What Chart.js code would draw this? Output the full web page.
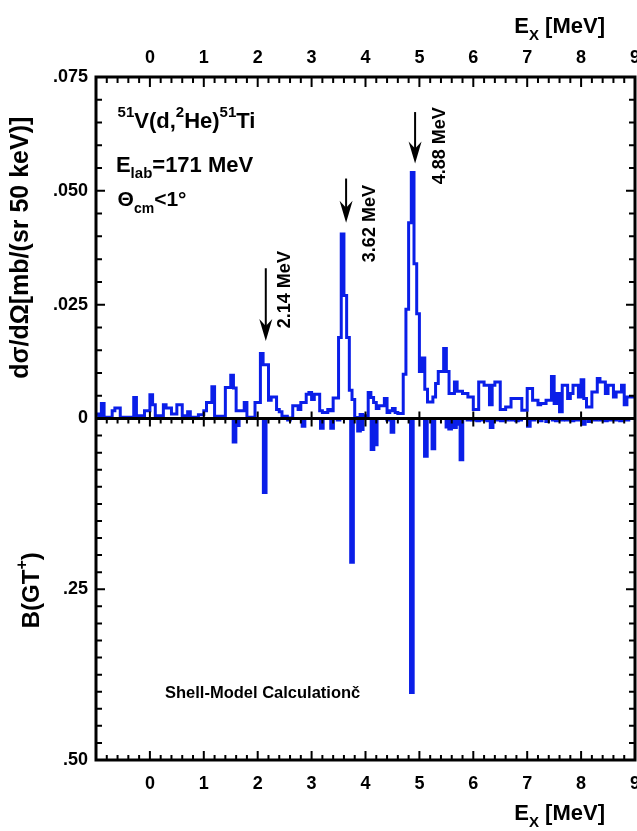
<!DOCTYPE html>
<html>
<head>
<meta charset="utf-8">
<script src="https://cdn.jsdelivr.net/npm/chart.js@4.4.0/dist/chart.umd.min.js"></script>
<style>
  html, body { margin: 0; padding: 0; background: #fff; }
  #wrap { width: 637px; height: 831px; }
</style>
</head>
<body>
<div id="wrap"><canvas id="spectrum" width="637" height="831"></canvas></div>
<script>
// 51V(d,2He)51Ti spectrum, 50 keV bins from -1 MeV
const binStart = -1.0;
const binWidth = 0.05;
const crossSection = [
  0.0010, 0.0010, 0.0003, 0.0033, 0.0003, 0.0003, 0.0003, 0.0017, 0.0023, 0.0023,
  0.0003, 0.0003, 0.0003, 0.0003, 0.0003, 0.0046, 0.0006, 0.0006, 0.0006, 0.0017,
  0.0017, 0.0052, 0.0030, 0.0006, 0.0006, 0.0006, 0.0030, 0.0023, 0.0023, 0.0010,
  0.0010, 0.0030, 0.0030, 0.0006, 0.0006, 0.0015, 0.0003, 0.0003, 0.0003, 0.0008,
  0.0008, 0.0017, 0.0035, 0.0035, 0.0070, 0.0005, 0.0005, 0.0005, 0.0005, 0.0068,
  0.0068, 0.0095, 0.0067, 0.0017, 0.0017, 0.0017, 0.0035, 0.0003, 0.0003, 0.0003,
  0.0035, 0.0035, 0.0143, 0.0118, 0.0118, 0.0040, 0.0047, 0.0047, 0.0020, 0.0015,
  0.0005, 0.0005, 0.0001, 0.0001, 0.0028, 0.0028, 0.0020, 0.0035, 0.0035, 0.0053,
  0.0057, 0.0042, 0.0053, 0.0053, 0.0017, 0.0013, 0.0013, 0.0020, 0.0017, 0.0045,
  0.0045, 0.0178, 0.0405, 0.0270, 0.0178, 0.0062, 0.0042, 0.0002, 0.0002, 0.0009,
  0.0006, 0.0006, 0.0057, 0.0046, 0.0035, 0.0022, 0.0028, 0.0028, 0.0044, 0.0013,
  0.0017, 0.0022, 0.0013, 0.0011, 0.0011, 0.0097, 0.0240, 0.0430, 0.0540, 0.0340,
  0.0230, 0.0103, 0.0133, 0.0064, 0.0036, 0.0036, 0.0047, 0.0077, 0.0103, 0.0103,
  0.0154, 0.0103, 0.0055, 0.0055, 0.0080, 0.0060, 0.0060, 0.0055, 0.0055, 0.0047,
  0.0047, 0.0020, 0.0020, 0.0080, 0.0080, 0.0073, 0.0073, 0.0030, 0.0073, 0.0080,
  0.0080, 0.0020, 0.0020, 0.0025, 0.0025, 0.0044, 0.0044, 0.0044, 0.0044, 0.0018,
  0.0018, 0.0066, 0.0066, 0.0040, 0.0040, 0.0030, 0.0033, 0.0033, 0.0040, 0.0040,
  0.0092, 0.0033, 0.0055, 0.0015, 0.0073, 0.0073, 0.0044, 0.0055, 0.0073, 0.0073,
  0.0047, 0.0085, 0.0044, 0.0025, 0.0025, 0.0058, 0.0058, 0.0088, 0.0080, 0.0080,
  0.0055, 0.0073, 0.0073, 0.0047, 0.0058, 0.0058, 0.0073, 0.0030, 0.0047, 0.0047
];

// shell-model B(GT+) strengths
const smEnergy = [
  1.57, 1.63, 2.13, 2.58, 2.85, 3.19, 3.38, 3.50, 3.75, 3.88,
  3.93, 4.13, 4.19, 4.42, 4.50, 4.86, 5.12, 5.26, 5.52, 5.57,
  5.62, 5.66, 5.70, 5.78, 5.91, 6.00, 6.09, 6.19, 6.28, 6.34,
  6.44, 6.53, 6.62, 6.72, 6.81, 6.87, 7.03, 7.12, 7.25, 7.37,
  7.49, 7.55, 7.65, 7.74, 7.84, 7.93, 8.05, 8.15, 8.27, 8.37,
  8.46, 8.55, 8.64, 8.74, 8.86
];
const smStrength = [
  0.036, 0.012, 0.110, 0.004, 0.013, 0.016, 0.016, 0.004, 0.212, 0.020,
  0.018, 0.047, 0.040, 0.004, 0.022, 0.403, 0.057, 0.046, 0.014, 0.017,
  0.012, 0.015, 0.010, 0.062, 0.004, 0.004, 0.005, 0.004, 0.005, 0.015,
  0.004, 0.005, 0.004, 0.004, 0.005, 0.004, 0.013, 0.004, 0.005, 0.006,
  0.004, 0.005, 0.004, 0.004, 0.005, 0.004, 0.010, 0.006, 0.004, 0.004,
  0.005, 0.004, 0.004, 0.005, 0.004
];

// marked peaks
const peakLabels = ['2.14 MeV', '3.62 MeV', '4.88 MeV'];
const arrowEnergy = [2.15, 3.64, 4.92];
const arrowTail = [0.0330, 0.0527, 0.0673];
const arrowTip = [0.0170, 0.0430, 0.0560];

const blue = '#0a1ee8';
const ink = '#000';
const family = "'Liberation Sans', Arial, Helvetica, sans-serif";

Chart.defaults.font.family = family;

const spectrumPoints = crossSection.map((v, i) => ({ x: binStart + i * binWidth, y: v }));
spectrumPoints.push({ x: binStart + crossSection.length * binWidth, y: crossSection[crossSection.length - 1] });
const smPoints = smEnergy.map((e, i) => ({ x: e, y: smStrength[i] }));

// text with super/subscripts: parts = [[text, 'sup'|'sub'|''], ...]
function richWidth(ctx, parts, size) {
  let w = 0;
  for (const [t, mode] of parts) {
    ctx.font = `bold ${mode ? Math.round(size * 0.68) : size}px ${family}`;
    w += ctx.measureText(t).width;
  }
  return w;
}

function richText(ctx, x, y, parts, size) {
  let cx = x;
  ctx.textAlign = 'left';
  for (const [t, mode] of parts) {
    const s = mode ? Math.round(size * 0.68) : size;
    const dy = mode === 'sup' ? -size * 0.5 : mode === 'sub' ? size * 0.3 : 0;
    ctx.font = `bold ${s}px ${family}`;
    ctx.fillText(t, cx, y + dy);
    cx += ctx.measureText(t).width;
  }
}

function drawArrow(ctx, x, yTail, yTip) {
  ctx.lineWidth = 2;
  ctx.beginPath();
  ctx.moveTo(x, yTail);
  ctx.lineTo(x, yTip - 10);
  ctx.stroke();
  ctx.beginPath();
  ctx.moveTo(x, yTip);
  ctx.lineTo(x - 6.5, yTip - 22);
  ctx.lineTo(x, yTip - 15);
  ctx.lineTo(x + 6.5, yTip - 22);
  ctx.closePath();
  ctx.fill();
}

// frame, inward ticks, zero line and labels
const decorations = {
  id: 'decorations',
  afterDatasetsDraw(chart) {
    const { ctx, chartArea: a, scales } = chart;
    const x = scales.x, ys = scales.ySpec, yg = scales.yGT;
    const zero = ys.getPixelForValue(0);
    ctx.save();
    ctx.strokeStyle = ink;
    ctx.fillStyle = ink;
    ctx.lineWidth = 2;
    ctx.beginPath();
    for (let k = 0; k <= 50; k++) {
      const px = x.getPixelForValue(-1 + k * 0.2);
      const major = k % 5 === 0;
      ctx.moveTo(px, a.top); ctx.lineTo(px, a.top + (major ? 10 : 6));
      ctx.moveTo(px, a.bottom); ctx.lineTo(px, a.bottom - (major ? 9 : 5));
      ctx.moveTo(px, zero + (major ? 8 : 5)); ctx.lineTo(px, zero - (major ? 7 : 0));
    }
    for (let k = 1; k < 15; k++) {
      const py = ys.getPixelForValue(k * 0.005);
      const len = k % 5 === 0 ? 9 : 6;
      ctx.moveTo(a.left, py); ctx.lineTo(a.left + len, py);
      ctx.moveTo(a.right, py); ctx.lineTo(a.right - len, py);
    }
    for (let k = 1; k < 20; k++) {
      const py = yg.getPixelForValue(k * 0.025);
      const len = k % 10 === 0 ? 9 : 6;
      ctx.moveTo(a.left, py); ctx.lineTo(a.left + len, py);
      ctx.moveTo(a.right, py); ctx.lineTo(a.right - len, py);
    }
    ctx.stroke();

    ctx.lineWidth = 3;
    ctx.strokeRect(a.left, a.top, a.right - a.left, a.bottom - a.top);
    ctx.beginPath();
    ctx.moveTo(a.left, zero); ctx.lineTo(a.right, zero);
    ctx.stroke();

    // reaction labels
    ctx.textBaseline = 'alphabetic';
    richText(ctx, x.getPixelForValue(-0.6), ys.getPixelForValue(0.0639),
      [['51', 'sup'], ['V(d,', ''], ['2', 'sup'], ['He)', ''], ['51', 'sup'], ['Ti', '']], 22);
    richText(ctx, x.getPixelForValue(-0.63), ys.getPixelForValue(0.0542),
      [['E', ''], ['lab', 'sub'], ['=171 MeV', '']], 22);
    richText(ctx, x.getPixelForValue(-0.6), ys.getPixelForValue(0.0466),
      [['Θ', ''], ['cm', 'sub'], ['<1°', '']], 21);

    // arrows and peak energies
    arrowEnergy.forEach((e, i) => {
      const px = x.getPixelForValue(e);
      drawArrow(ctx, px, ys.getPixelForValue(arrowTail[i]), ys.getPixelForValue(arrowTip[i]));
    });
    const labelAt = [[2.5, 0.0283], [4.09, 0.0428], [5.39, 0.0599]];
    peakLabels.forEach((t, i) => {
      ctx.save();
      ctx.translate(x.getPixelForValue(labelAt[i][0]), ys.getPixelForValue(labelAt[i][1]));
      ctx.rotate(-Math.PI / 2);
      ctx.font = `bold 18px ${family}`;
      ctx.textAlign = 'center';
      ctx.textBaseline = 'middle';
      ctx.fillText(t, 0, 0);
      ctx.restore();
    });

    ctx.font = `bold 16.5px ${family}`;
    ctx.textAlign = 'left';
    ctx.textBaseline = 'middle';
    ctx.fillText('Shell-Model Calculationč', x.getPixelForValue(0.28), yg.getPixelForValue(0.402));

    // axis titles
    const xTitle = [['E', ''], ['X', 'sub'], [' [MeV]', '']];
    const tw = richWidth(ctx, xTitle, 22);
    ctx.textBaseline = 'alphabetic';
    richText(ctx, a.right - 30 - tw, 33, xTitle, 22);
    richText(ctx, a.right - 30 - tw, 820, xTitle, 22);

    ctx.save();
    ctx.translate(21, (ys.top + ys.bottom) / 2);
    ctx.rotate(-Math.PI / 2);
    ctx.font = `bold 25px ${family}`;
    ctx.textAlign = 'center';
    ctx.textBaseline = 'middle';
    ctx.fillText('dσ/dΩ[mb/(sr 50 keV)]', 0, 0);
    ctx.restore();

    ctx.save();
    ctx.translate(39, (yg.top + yg.bottom) / 2 + 1);
    ctx.rotate(-Math.PI / 2);
    ctx.textBaseline = 'alphabetic';
    const gt = [['B(GT', ''], ['+', 'sup'], [')', '']];
    richText(ctx, -richWidth(ctx, gt, 24) / 2, 0, gt, 24);
    ctx.restore();

    ctx.restore();
  }
};

const tickFont = { family: family, size: 18, weight: 'bold' };
const noPad = s => { s.paddingLeft = 0; s.paddingRight = 0; s.paddingTop = 0; s.paddingBottom = 0; };

new Chart(document.getElementById('spectrum'), {
  type: 'bar',
  data: {
    datasets: [
      {
        type: 'line',
        label: 'spectrum',
        data: spectrumPoints,
        xAxisID: 'x',
        yAxisID: 'ySpec',
        stepped: 'after',
        borderColor: blue,
        borderWidth: 3,
        pointRadius: 0,
        fill: false
      },
      {
        type: 'bar',
        label: 'shell model',
        data: smPoints,
        xAxisID: 'x',
        yAxisID: 'yGT',
        backgroundColor: blue,
        borderWidth: 0,
        barThickness: 5
      }
    ]
  },
  options: {
    responsive: false,
    animation: false,
    events: [],
    layout: { padding: { left: 0, right: 2, top: 0, bottom: 0 } },
    plugins: { legend: { display: false }, tooltip: { enabled: false } },
    scales: {
      x: {
        type: 'linear', position: 'bottom', min: -1, max: 9, offset: false,
        grid: { display: false, drawTicks: false }, border: { display: false },
        ticks: { stepSize: 1, autoSkip: false, maxRotation: 0, padding: 13, color: ink, font: tickFont,
          callback: v => v < 0 ? '' : String(v) },
        afterFit: s => { s.height = 71; noPad(s); }
      },
      xTop: {
        type: 'linear', position: 'top', min: -1, max: 9, offset: false,
        grid: { display: false, drawTicks: false }, border: { display: false },
        ticks: { stepSize: 1, autoSkip: false, maxRotation: 0, padding: 8, color: ink, font: tickFont,
          callback: v => v < 0 ? '' : String(v) },
        afterFit: s => { s.height = 77; noPad(s); }
      },
      yGT: {
        type: 'linear', position: 'left', stack: 'panels', stackWeight: 1,
        min: 0, max: 0.5, reverse: true,
        grid: { display: false, drawTicks: false }, border: { display: false },
        ticks: { stepSize: 0.25, padding: 8, color: ink, font: tickFont,
          callback: v => v === 0 ? '' : '.' + v.toFixed(2).slice(2) },
        afterFit: s => { s.width = 96; noPad(s); }
      },
      ySpec: {
        type: 'linear', position: 'left', stack: 'panels', stackWeight: 1,
        min: 0, max: 0.075,
        grid: { display: false, drawTicks: false }, border: { display: false },
        ticks: { stepSize: 0.025, padding: 8, color: ink, font: tickFont,
          callback: v => v === 0 ? '0' : '.' + v.toFixed(3).slice(2) },
        afterFit: s => { s.width = 96; noPad(s); }
      }
    }
  },
  plugins: [decorations]
});
</script>
</body>
</html>
